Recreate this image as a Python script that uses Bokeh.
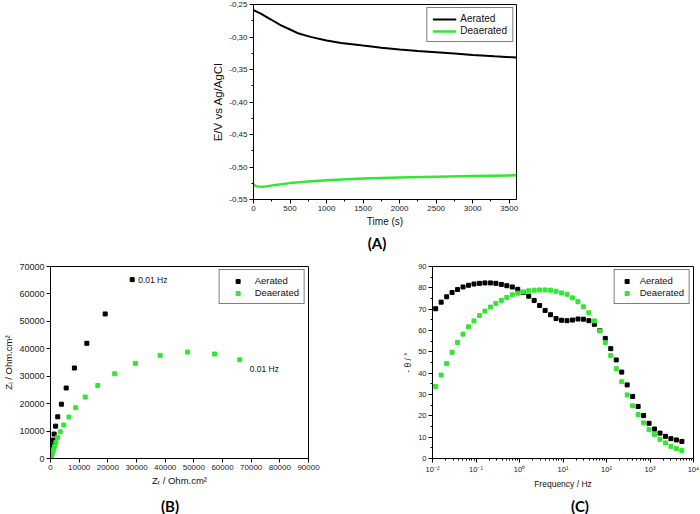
from bokeh.plotting import figure
from bokeh.models import (Range1d, FixedTicker, CustomJSTickFormatter, NumeralTickFormatter,
                          Legend, Label, Spacer, Div)
from bokeh.layouts import column, row
from bokeh.embed import file_html
from bokeh.resources import INLINE

# ---------------- Panel A: open circuit potential vs time ----------------
time_aer = [0, 100, 240, 370, 500, 620, 780, 1000, 1200, 1500, 1750, 2000, 2250, 2500, 2750, 3000, 3300, 3600]
e_aer = [-0.2587, -0.2639, -0.2731, -0.2818, -0.2885, -0.2947, -0.2998, -0.3055, -0.3091, -0.3132,
         -0.3165, -0.3193, -0.3215, -0.3235, -0.3255, -0.3276, -0.3297, -0.3317]
time_dea = [0, 50, 150, 280, 500, 750, 1000, 1500, 2000, 2500, 3000, 3600]
e_dea = [-0.5269, -0.5300, -0.5302, -0.5279, -0.5248, -0.5223, -0.5202, -0.5176, -0.5160, -0.5150, -0.5140, -0.5128]
a_xticks = [0, 500, 1000, 1500, 2000, 2500, 3000, 3500]
a_yticks = [-0.55, -0.50, -0.45, -0.40, -0.35, -0.30, -0.25]

# ---------------- Panel B: Nyquist ----------------
zr_aer = [28500, 19070, 12680, 8340, 5480, 3800, 2530, 1780, 1270, 920, 600, 380, 250, 160, 100, 60, 35]
zi_aer = [65200, 52700, 42000, 33000, 25700, 19800, 15200, 11800, 8900, 6700, 4900, 3500, 2500, 1700, 1100, 650, 350]
zr_dea = [66000, 57200, 47850, 38250, 29600, 22400, 16500, 12100, 8800, 6450, 4650, 3400, 2500, 1900,
          1400, 1000, 700, 480, 320, 200, 120, 60]
zi_dea = [36000, 38100, 38800, 37600, 34700, 30900, 26600, 22400, 18500, 15100, 12200, 9750, 7700, 5900,
          4400, 3200, 2200, 1500, 1000, 600, 350, 150]
b_xticks = [0, 10000, 20000, 30000, 40000, 50000, 60000, 70000, 80000, 90000]
b_yticks = [0, 10000, 20000, 30000, 40000, 50000, 60000, 70000]

# ---------------- Panel C: Bode phase ----------------
freq = [0.01183, 0.01581, 0.02113, 0.02818, 0.03767, 0.05035, 0.0673, 0.08995, 0.12, 0.1603,
        0.2143, 0.2864, 0.3823, 0.511, 0.683, 0.9129, 1.219, 1.629, 2.173, 2.904,
        3.881, 5.188, 6.925, 9.25, 12.36, 16.52, 22.08, 29.44, 39.36, 52.6,
        70.3, 93.8, 125.3, 167.5, 223.9, 298.5, 399, 533, 713, 951,
        1271, 1698, 2270, 3027, 4046, 5408]
phase_aer = [70.2, 73.3, 75.8, 77.8, 79.2, 80.4, 81.2, 81.8, 82.1, 82.3,
             82.3, 82.1, 81.6, 81.0, 80.4, 79.3, 77.8, 76.1, 74.1, 71.7,
             69.4, 67.4, 65.6, 64.8, 64.6, 64.9, 65.4, 65.3, 64.6, 62.9,
             60.0, 56.3, 51.5, 46.2, 40.5, 34.5, 29.1, 24.4, 20.1, 16.5,
             13.8, 11.9, 10.4, 9.3, 8.7, 8.0]
phase_dea = [33.7, 39.1, 44.5, 49.8, 54.4, 58.3, 61.7, 64.5, 67.0, 69.1,
             71.0, 72.7, 74.1, 75.5, 76.7, 77.5, 78.1, 78.6, 78.9, 79.0,
             79.0, 78.9, 78.4, 77.6, 77.0, 75.3, 73.5, 71.1, 68.3, 64.5,
             59.8, 54.4, 48.2, 42.1, 36.0, 29.8, 24.7, 20.6, 16.7, 13.5,
             11.3, 9.0, 7.3, 5.7, 4.6, 3.7]
c_xticks = [0.01, 0.1, 1.0, 10.0, 100.0, 1000.0, 10000.0]
c_xlabels = ["10\u207b\u00b2", "10\u207b\u00b9", "10\u2070", "10\u00b9", "10\u00b2", "10\u00b3", "10\u2074"]
c_yticks = [0, 10, 20, 30, 40, 50, 60, 70, 80, 90]

FONT = "Liberation Sans"
GREEN = "#33e633"


def base_fig(width, height, xr, yr, borders, x_axis_type="linear"):
    p = figure(width=width, height=height, x_range=xr, y_range=yr, x_axis_type=x_axis_type,
               output_backend="svg", toolbar_location=None,
               min_border_left=borders[0], min_border_right=borders[1],
               min_border_top=borders[2], min_border_bottom=borders[3])
    p.xgrid.visible = False
    p.ygrid.visible = False
    p.outline_line_color = "black"
    p.outline_line_alpha = 1
    p.outline_line_width = 1
    p.background_fill_color = "white"
    p.border_fill_color = "white"
    for ax in (p.xaxis[0], p.yaxis[0]):
        ax.axis_line_color = "black"
        ax.major_tick_line_color = "black"
        ax.minor_tick_line_color = "black"
        ax.major_tick_out = 4
        ax.major_tick_in = 0
        ax.minor_tick_out = 2
        ax.minor_tick_in = 0
        ax.major_label_text_font = FONT
        ax.axis_label_text_font = FONT
        ax.axis_label_text_font_style = "normal"
        ax.major_label_text_color = "#222222"
        ax.axis_label_text_color = "#111111"
        ax.major_label_standoff = 2
        ax.axis_label_standoff = 2
    return p


def style_legend(leg, glyph_width, font_size):
    leg.border_line_color = "black"
    leg.border_line_width = 1
    leg.background_fill_color = "white"
    leg.background_fill_alpha = 1
    leg.padding = 5
    leg.spacing = 1
    leg.margin = 3
    leg.glyph_width = glyph_width
    leg.glyph_height = 10
    leg.label_height = 10
    leg.label_standoff = 4
    leg.label_text_font = FONT
    leg.label_text_font_size = font_size
    leg.label_text_color = "#111111"


def letter(text, width, height):
    return Div(text=text, width=width, height=height, margin=0,
               styles={"font-family": "Lato", "font-weight": "bold", "font-size": "15px",
                       "text-align": "center", "line-height": f"{height}px", "color": "black"})


# ---- Panel A ----
pA = base_fig(340, 232, Range1d(0, 3600), Range1d(-0.55, -0.25), (53, 24, 4, 33))
pA.xaxis.ticker = FixedTicker(ticks=a_xticks, minor_ticks=[t + 250 for t in a_xticks])
pA.yaxis.ticker = FixedTicker(ticks=a_yticks, minor_ticks=[t + 0.025 for t in a_yticks[:-1]])
pA.yaxis.formatter = CustomJSTickFormatter(code="return tick.toFixed(2).replace('.', ',');")
pA.xaxis.major_label_text_font_size = "8px"
pA.yaxis.major_label_text_font_size = "8px"
pA.xaxis.axis_label = "Time (s)"
pA.yaxis.axis_label = "E/V vs Ag/AgCl"
pA.xaxis.axis_label_text_font_size = "10px"
pA.yaxis.axis_label_text_font_size = "11.5px"
la = pA.line(time_aer, e_aer, line_color="black", line_width=2)
ld = pA.line(time_dea, e_dea, line_color=GREEN, line_width=2.5)
legA = Legend(items=[("Aerated", [la]), ("Deaerated", [ld])], location="top_right")
style_legend(legA, 24, "10px")
pA.add_layout(legA)

# ---- Panel B ----
pB = base_fig(350, 236, Range1d(0, 90000), Range1d(0, 70000), (46, 42, 11, 32))
pB.xaxis.ticker = FixedTicker(ticks=b_xticks)
pB.yaxis.ticker = FixedTicker(ticks=b_yticks)
pB.xaxis.formatter = NumeralTickFormatter(format="0")
pB.yaxis.formatter = NumeralTickFormatter(format="0")
pB.xaxis.major_label_text_font_size = "8px"
pB.yaxis.major_label_text_font_size = "9px"
pB.xaxis.axis_label = "Z\u1d63 / Ohm.cm\u00b2"
pB.yaxis.axis_label = "Z\u1d62 / Ohm.cm\u00b2"
pB.xaxis.axis_label_text_font_size = "9.5px"
pB.yaxis.axis_label_text_font_size = "9.5px"
sa = pB.scatter(zr_aer, zi_aer, marker="square", size=4, fill_color="black", line_color="black")
sd = pB.scatter(zr_dea, zi_dea, marker="square", size=4, fill_color=GREEN, line_color=GREEN)
legB = Legend(items=[("Aerated", [sa]), ("Deaerated", [sd])], location="top_right")
style_legend(legB, 26, "9.5px")
pB.add_layout(legB)
pB.add_layout(Label(x=zr_aer[0], y=zi_aer[0], x_offset=6, text="0.01 Hz", text_baseline="middle",
                    text_font=FONT, text_font_size="8.5px", text_color="#111111"))
pB.add_layout(Label(x=zr_dea[0], y=zi_dea[0], x_offset=10, y_offset=-9, text="0.01 Hz",
                    text_baseline="middle", text_font=FONT, text_font_size="8.5px", text_color="#111111"))

# ---- Panel C ----
pC = base_fig(350, 236, Range1d(0.01, 10000), Range1d(0, 90), (82, 7, 11, 31), x_axis_type="log")
pC.xaxis.ticker = FixedTicker(ticks=c_xticks,
                              minor_ticks=[m * t for t in c_xticks[:-1] for m in range(2, 10)])
pC.xaxis.major_label_overrides = dict(zip(c_xticks, c_xlabels))
pC.yaxis.ticker = FixedTicker(ticks=c_yticks, minor_ticks=[t + 5 for t in c_yticks[:-1]])
pC.xaxis.major_label_text_font_size = "7.5px"
pC.yaxis.major_label_text_font_size = "7.5px"
pC.xaxis.axis_label = "Frequency / Hz"
pC.yaxis.axis_label = "- \u03b8 / \u00b0"
pC.xaxis.axis_label_text_font_size = "8.5px"
pC.yaxis.axis_label_text_font_size = "8.5px"
ca = pC.scatter(freq, phase_aer, marker="square", size=4, fill_color="black", line_color="black")
cd = pC.scatter(freq, phase_dea, marker="square", size=4, fill_color=GREEN, line_color=GREEN)
legC = Legend(items=[("Aerated", [ca]), ("Deaerated", [cd])], location="top_right")
style_legend(legC, 14, "9.5px")
legC.label_standoff = 6
pC.add_layout(legC)

layout = column(
    row(Spacer(width=200, height=232), pA),
    Spacer(height=3),
    row(Spacer(width=317, height=16), letter("(A)", 120, 16)),
    Spacer(height=4),
    row(pB, pC),
    Spacer(height=8),
    row(letter("(B)", 340, 15), Spacer(width=150, height=15), letter("(C)", 180, 15)),
)

open("out.html", "w").write(file_html(layout, INLINE))
